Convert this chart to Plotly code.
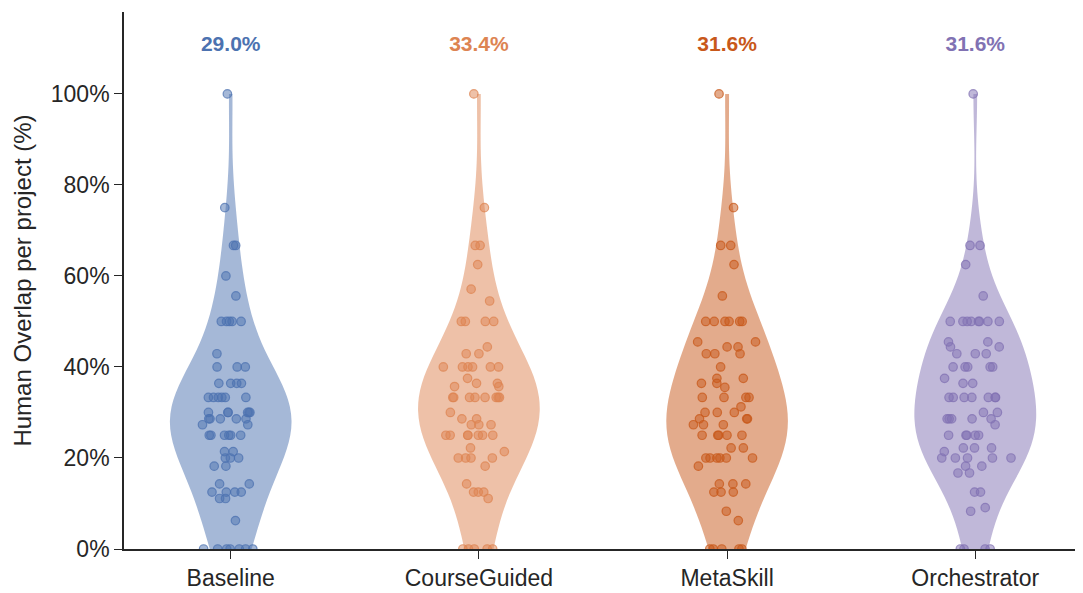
import numpy as np
import plotly.graph_objects as go

categories = ["Baseline", "CourseGuided", "MetaSkill", "Orchestrator"]
colors = ["#4C72B0", "#DD8452", "#C8581A", "#8172B3"]
mean_labels = [29.0, 33.4, 31.6, 31.6]
label_y = 110.5
y_ticks = [0, 20, 40, 60, 80, 100]

baseline = [100, 75, 66.7, 66.7, 60, 55.6, 50, 50, 50, 50, 50, 42.9,
            40, 40, 40, 36.4, 36.4, 36.4, 36.4,
            33.3, 33.3, 33.3, 33.3, 33.3, 33.3,
            30, 30, 30, 30, 30, 30,
            28.6, 28.6, 28.6, 28.6, 28.6, 27.3, 27.3,
            25, 25, 25, 25, 25, 25, 21.4, 21.4, 20, 20, 20, 18.2, 18.2,
            14.3, 14.3, 12.5, 12.5, 12.5, 12.5, 11.1, 11.1, 6.25,
            0, 0, 0, 0, 0, 0, 0]
course_guided = [100, 75, 66.7, 66.7, 62.5, 57.1, 54.5, 50, 50, 50, 50,
                 44.4, 42.9, 42.9, 40, 40, 40, 40, 40, 40, 37.5,
                 36.4, 36.4, 35.7, 35.7,
                 33.3, 33.3, 33.3, 33.3, 33.3, 33.3, 33.3, 33.3,
                 30, 28.6, 28.6, 27.3, 27.3, 27.3,
                 25, 25, 25, 25, 25, 25, 25, 22.2, 21.4,
                 20, 20, 20, 20, 18.2, 14.3, 12.5, 12.5, 12.5, 11.1,
                 0, 0, 0, 0, 0]
meta_skill = [100, 75, 66.7, 66.7, 62.5, 55.6, 50, 50, 50, 50, 50, 50,
              45.5, 45.5, 44.4, 44.4, 42.9, 42.9, 42.9, 40, 37.5, 37.5,
              36.4, 36.4, 35.5, 33.3, 33.3, 33.3, 33.3, 31.25,
              30, 30, 30, 28.6, 28.6, 28.6, 27.3, 27.3, 27.3,
              25, 25, 25, 25, 25, 22.2, 22.2, 20, 20, 20, 20, 20, 20,
              18.2, 14.3, 14.3, 14.3, 12.5, 12.5, 12.5, 8.3, 6.25,
              0, 0, 0, 0, 0]
orchestrator = [100, 66.7, 66.7, 62.5, 55.6, 50, 50, 50, 50, 50, 50, 50, 50,
                45.5, 45.5, 44.4, 44.4, 42.9, 42.9, 42.9,
                40, 40, 40, 40, 40, 37.5, 36.4, 36.4,
                33.3, 33.3, 33.3, 33.3, 33.3, 33.3, 33.3, 30, 30,
                28.6, 28.6, 28.6, 28.6, 28.6, 27.3,
                25, 25, 25, 25, 25, 22.2, 22.2, 22.2, 21.4,
                20, 20, 20, 20, 20, 18.2, 18.2, 16.7, 16.7, 12.5, 12.5,
                9.1, 8.3, 0, 0, 0, 0]

series = [baseline, course_guided, meta_skill, orchestrator]


def rgba(hex_color, a):
    h = hex_color.lstrip("#")
    r, g, b = int(h[0:2], 16), int(h[2:4], 16), int(h[4:6], 16)
    return f"rgba({r},{g},{b},{a})"


fig = go.Figure()
for cat, vals, col in zip(categories, series, colors):
    arr = np.asarray(vals, dtype=float)
    bw = 1.15 * arr.std(ddof=1) * len(arr) ** (-1 / 5)  # Scott's rule, slightly smoothed
    fig.add_trace(go.Violin(
        x=[cat] * len(vals), y=vals, name=cat,
        spanmode="hard", scalemode="width", width=0.49, bandwidth=bw,
        fillcolor=rgba(col, 0.5), line=dict(color=rgba(col, 0.0), width=0),
        points="all", pointpos=0, jitter=0.7,
        marker=dict(size=8.5, color=rgba(col, 0.5),
                    line=dict(color=rgba(col, 0.75), width=1.2)),
        box_visible=False, meanline_visible=False, showlegend=False,
        hoverinfo="y",
    ))

fig.add_trace(go.Scatter(
    x=categories, y=[label_y] * len(categories), mode="text",
    text=[f"{m:.1f}%" for m in mean_labels],
    textfont=dict(size=21, color=colors, family="Liberation Sans, Arial",
                  weight="bold"),
    showlegend=False, hoverinfo="skip",
))

fig.update_layout(
    width=1075, height=585,
    margin=dict(l=116, r=1, t=4, b=44),
    paper_bgcolor="white", plot_bgcolor="white",
    font=dict(family="Liberation Sans, Arial, sans-serif", size=23, color="#262626"),
    violinmode="overlay",
)
fig.update_xaxes(
    type="category", range=[-0.43, 3.43],
    showline=True, linecolor="#262626", linewidth=1.6,
    ticks="outside", ticklen=8, tickwidth=1.4, tickcolor="#262626",
    showgrid=False, zeroline=False,
)
fig.update_yaxes(
    range=[0, 118], tickvals=y_ticks, ticktext=[f"{t}%" for t in y_ticks],
    showline=True, linecolor="#262626", linewidth=1.6,
    ticks="outside", ticklen=8, tickwidth=1.4, tickcolor="#262626",
    showgrid=False, zeroline=False,
    title=dict(text="Human Overlap per project (%)", font=dict(size=24), standoff=12),
)

fig.write_html("out.html")
